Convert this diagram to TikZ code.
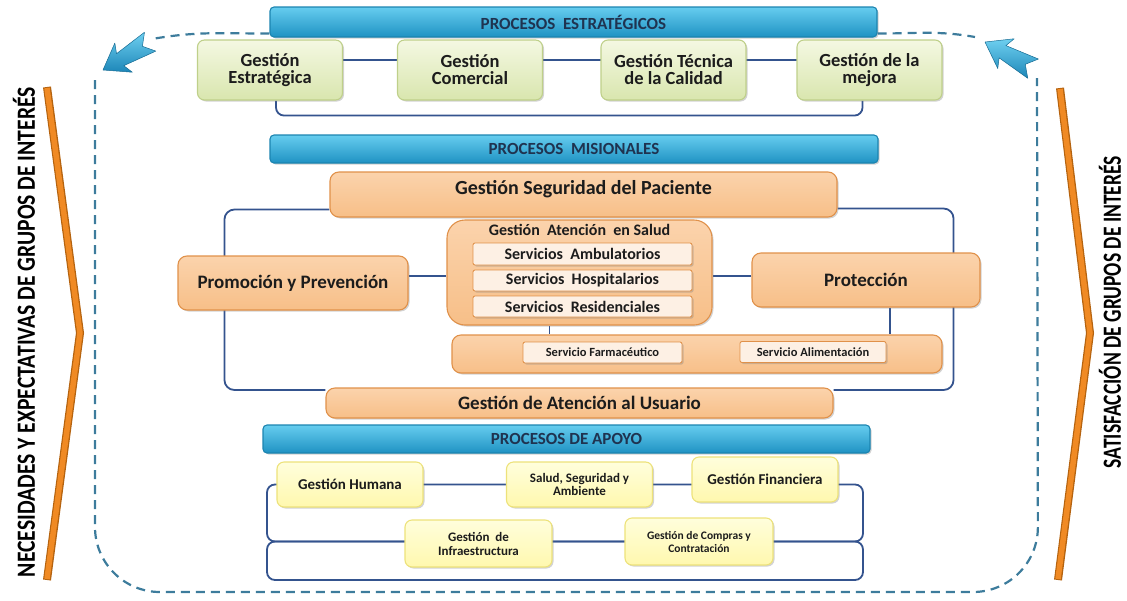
\documentclass[tikz,border=0pt]{standalone}
\usepackage{fontspec}
\usepackage{graphicx}
\setmainfont{Carlito}
\usetikzlibrary{shadows}
\pgfdeclarelayer{bg}
\pgfsetlayers{bg,main}
\definecolor{ink}{HTML}{1C1C1C}
\definecolor{navy}{HTML}{1F3350}
\definecolor{barA}{HTML}{66CDEF}
\definecolor{barB}{HTML}{1F92C3}
\definecolor{barD}{HTML}{1B84B0}
\definecolor{gA}{HTML}{F4F8E2}
\definecolor{gB}{HTML}{D9E6AE}
\definecolor{gD}{HTML}{BFD08A}
\definecolor{oA}{HTML}{FBD3AC}
\definecolor{oB}{HTML}{F7BF88}
\definecolor{oD}{HTML}{E0914A}
\definecolor{sA}{HTML}{FDF0E4}
\definecolor{yA}{HTML}{FFFEDC}
\definecolor{yB}{HTML}{FFF8AE}
\definecolor{yD}{HTML}{EDE27A}
\definecolor{conn}{HTML}{34538E}
\definecolor{loopc}{HTML}{3D7C9C}
\definecolor{arrA}{HTML}{6FD0F0}
\definecolor{arrB}{HTML}{1C86B8}
\definecolor{chevA}{HTML}{F08A24}
\definecolor{chevD}{HTML}{B5630F}
\begin{document}
\begin{tikzpicture}[x=1pt, y=-1pt, line join=round, line cap=round,
  box/.style={rounded corners=7pt, line width=1.1pt, align=center, inner sep=2pt, text=ink,
    drop shadow={shadow xshift=1.5pt, shadow yshift=-1.5pt, opacity=.35}},
  bar/.style={box, draw=barD, top color=barA, bottom color=barB, rounded corners=4pt,
    minimum height=28, text=navy, font=\fontsize{17}{17}\selectfont\bfseries},
  gbox/.style={box, draw=gD, top color=gA, bottom color=gB, minimum width=145, minimum height=60,
    font=\fontsize{18.5}{17}\selectfont\bfseries},
  obox/.style={box, draw=oD, top color=oA, bottom color=oB, rounded corners=9pt,
    font=\fontsize{19}{19}\selectfont\bfseries},
  sbox/.style={box, draw=oD, fill=sA, rounded corners=2pt, line width=.9pt, minimum width=219,
    minimum height=21, font=\fontsize{16}{16}\selectfont\bfseries},
  ybox/.style={box, draw=yD, top color=yA, bottom color=yB, minimum width=146, minimum height=45,
    font=\fontsize{15}{15}\selectfont\bfseries},
  conn/.style={draw=conn, line width=1.8pt},
  loopline/.style={draw=loopc, line width=2.2pt, dash pattern=on 9pt off 6pt, line cap=butt},
  arrowfill/.style={top color=arrA, bottom color=arrB, draw=arrB!80!black, line width=.5pt}]
\useasboundingbox (0,0) rectangle (1127,600);

% procesos estrategicos
\node[bar, minimum width=607, minimum height=30] (ebar) at (573.5,22) {PROCESOS\ \ ESTRATÉGICOS};
\node[gbox] (est) at (270,70) {Gestión\\Estratégica};
\node[gbox] (com) at (470,70) {Gestión\\Comercial};
\node[gbox] (cal) at (673.5,70) {Gestión Técnica\\de la Calidad};
\node[gbox] (mej) at (869.5,70) {Gestión de la\\mejora};

% procesos misionales
\node[bar, minimum width=608] (mbar) at (574,149) {PROCESOS\ \ MISIONALES};
\node[obox, minimum width=507, minimum height=45, text depth=14pt, font=\fontsize{20}{20}\selectfont\bfseries] (seg) at (583.5,194.5) {Gestión Seguridad del Paciente};
\node[obox, minimum width=230, minimum height=54] (pyp) at (293,283) {Promoción y Prevención};
\node[obox, minimum width=265, minimum height=105, rounded corners=18pt, text depth=85pt,
  font=\fontsize{16}{16}\selectfont\bfseries] (ate) at (579.5,272.5) {Gestión\ \ Atención\ \ en Salud};
\node[sbox, minimum height=22] (amb) at (582.5,254) {Servicios\ \ Ambulatorios};
\node[sbox] (hos) at (582.5,280.5) {Servicios\ \ Hospitalarios};
\node[sbox] (res) at (582.5,306.5) {Servicios\ \ Residenciales};
\node[obox, minimum width=228, minimum height=54] (pro) at (866,280) {Protección};
\node[obox, minimum width=490, minimum height=38] (far) at (697,354) {};
\node[sbox, minimum width=159, font=\fontsize{12.5}{12.5}\selectfont\bfseries] (sfa) at (602.5,352.5) {Servicio Farmacéutico};
\node[sbox, minimum width=146, font=\fontsize{12.5}{12.5}\selectfont\bfseries] (ali) at (813,352) {Servicio Alimentación};
\node[obox, minimum width=507, minimum height=30] (usu) at (579.5,403) {Gestión de Atención al Usuario};

% procesos de apoyo
\node[bar, minimum width=607] (abar) at (566.5,439) {PROCESOS DE APOYO};
\node[ybox] (hum) at (350,484.5) {Gestión Humana};
\node[ybox, font=\fontsize{13}{13}\selectfont\bfseries] (ssa) at (579.5,484.5) {Salud, Seguridad y\\Ambiente};
\node[ybox] (fin) at (765,479.5) {Gestión Financiera};
\node[ybox, minimum width=147, minimum height=47, font=\fontsize{13}{14}\selectfont\bfseries] (inf) at (478.5,543.5) {Gestión\ \ de\\Infraestructura};
\node[ybox, minimum width=148, minimum height=47, font=\fontsize{11.5}{13}\selectfont\bfseries] (cyc) at (699,541.5) {Gestión de Compras y\\Contratación};
\coordinate (apl) at (267,580);
\coordinate (apr) at (863,580);

\begin{pgfonlayer}{bg}
  \draw[conn] ([yshift=10pt]est.center) -- ([yshift=10pt]mej.center);
  \draw[conn, rounded corners=8pt] ([xshift=6pt]est.south) -- ++(0,15) -| ([xshift=-7pt]mej.south);
  \draw[conn, rounded corners=10pt] ([yshift=-15pt]seg.west) -- ++(-105,0) |- ([yshift=13pt]usu.west);
  \draw[conn, rounded corners=10pt] ([yshift=-14pt]seg.east) -- ++(116,0) |- ([yshift=13pt]usu.east);
  \draw[conn] ([yshift=7pt]pyp.east) -- ([yshift=7pt]pyp.east -| ate.west);
  \draw[conn] ([yshift=4pt]pro.west) -- ([yshift=4pt]pro.west -| ate.east);
  \draw[conn] ([xshift=-30pt]ate.south) -- ([xshift=-30pt]ate.south |- far.north);
  \draw[conn] ([xshift=24pt]pro.south) -- ([xshift=24pt]pro.south |- far.north);
  \draw[conn, rounded corners=8pt] (apl |- hum.center) rectangle (apr |- cyc.center);
  \draw[conn, rounded corners=8pt] (apl |- cyc.center) rectangle (apr);
\end{pgfonlayer}

% lazo punteado y flechas
\coordinate (la) at (152,39);
\coordinate (ra) at (975,37);
\coordinate (lt) at (95,80);
\coordinate (rt) at (1037,78);
\draw[loopline] ([yshift=4pt]ebar.south west) to[out=180, in=10] (la);
\draw[loopline] ([yshift=4pt]ebar.south east) to[out=0, in=170] (ra);
\draw[loopline, rounded corners=65pt] (lt) -- (95,592) -- (1038,592) -- (rt);
\begin{scope}[shift={(103,70)}, rotate=211]
  \shade[arrowfill] (0,0) -- (-24,17) -- (-20,7) -- (-55,11) -- (-46,0) -- (-55,-11) -- (-20,-7) -- (-24,-17) -- cycle;
\end{scope}
\begin{scope}[shift={(985,42)}, rotate=151]
  \shade[arrowfill] (0,0) -- (-24,17) -- (-20,7) -- (-55,11) -- (-46,0) -- (-55,-11) -- (-20,-7) -- (-24,-17) -- cycle;
\end{scope}

% grupos de interes
\draw[chevD, line width=8pt, line cap=butt, line join=miter] (47,87) -- (80,333) -- (47,580);
\draw[chevA, line width=5.5pt, line cap=butt, line join=miter] (47,88) -- (80,333) -- (47,579);
\draw[chevD, line width=8pt, line cap=butt, line join=miter] (1060,88) -- (1090,333) -- (1058,580);
\draw[chevA, line width=5.5pt, line cap=butt, line join=miter] (1060,89) -- (1090,333) -- (1058,579);
\node[rotate=90, text=black, font=\bfseries] (nec) at (24,332) {\resizebox{490pt}{22pt}{NECESIDADES Y EXPECTATIVAS DE GRUPOS DE INTERÉS}};
\node[rotate=90, text=black, font=\bfseries] (sat) at (1110,312) {\resizebox{312pt}{22pt}{SATISFACCIÓN DE GRUPOS DE INTERÉS}};
\end{tikzpicture}
\end{document}
